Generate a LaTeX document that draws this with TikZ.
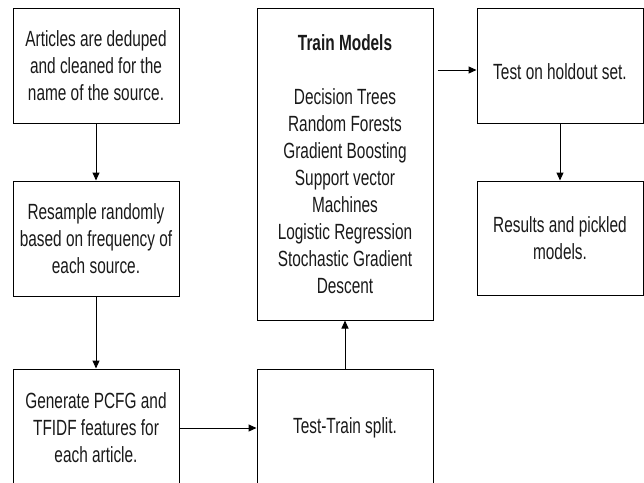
\documentclass[tikz,border=0pt]{standalone}
\usepackage{fontspec}
\setmainfont{Liberation Sans}[FakeStretch=0.7]
\usetikzlibrary{arrows.meta}
\begin{document}
\begin{tikzpicture}[x=1pt,y=-1pt,
  every node/.style={font=\fontsize{22}{27}\selectfont, text=black!90},
  stage/.style={draw, line width=1pt, align=center, inner sep=0pt,
                minimum width=166pt, minimum height=115pt},
  flow/.style={draw, line width=1pt, -{Triangle[length=8pt,width=7pt]}}]
  \useasboundingbox (0,0) rectangle (644,482);
  \clip (0,0) rectangle (644,482);

  % left column
  \node[stage] (dedup) at (96,65.5)
    {Articles are deduped\\and cleaned for the\\name of the source.};
  \node[stage] (resample) at (96,238.5)
    {Resample randomly\\based on frequency of\\each source.};
  \node[stage, minimum height=118pt] (features) at (96,428)
    {Generate PCFG and\\TFIDF features for\\each article.};

  % middle column
  \node[stage, minimum width=176pt, minimum height=118pt] (split) at (345,428)
    {Test-Train split.};
  \node[stage, minimum width=176pt, minimum height=312pt] (train) at (345,164)
    {\textbf{Train Models}\\[27pt]Decision Trees\\Random Forests\\Gradient Boosting\\Support vector\\Machines\\Logistic Regression\\Stochastic Gradient\\Descent};

  % right column
  \node[stage] (holdout) at (560,65.5)
    {\raisebox{-6pt}[\height][\depth]{Test on holdout set.}};
  \node[stage, minimum height=114pt] (results) at (560,238)
    {Results and pickled\\models.};

  % connectors
  \draw[flow] (dedup) -- (resample);
  \draw[flow] (resample) -- (features);
  \draw[flow] (features.east |- split.west) -- (split.west);
  \draw[flow] (split) -- (train);
  \draw[flow] ([xshift=4pt,yshift=-4.5pt]train.east |- holdout.west)
    -- ([yshift=-4.5pt]holdout.west);
  \draw[flow] (holdout) -- (results);
\end{tikzpicture}
\end{document}
